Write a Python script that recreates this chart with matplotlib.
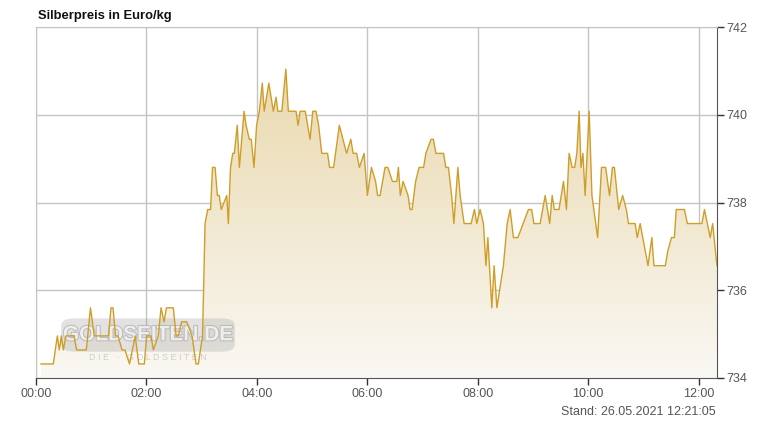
import numpy as np
import matplotlib
matplotlib.use("Agg")
import matplotlib.pyplot as plt
import matplotlib.patheffects as pe
from matplotlib.patches import FancyBboxPatch
from matplotlib.colors import LinearSegmentedColormap

plt.rcParams['font.family'] = ['Liberation Sans', 'DejaVu Sans']

# Kursdaten: Minuten seit 00:00 und Preis in Euro/kg
minutes = [5.4, 18.8, 23.2, 25.3, 27.5, 29.7, 32.6, 41.3, 44.2, 54.7,
           59.2, 63.3, 78.8, 81.5, 83.7, 86.4, 89.1, 93.5, 96.7, 101.6,
           107.8, 111.7, 117.7, 120.3, 125.0, 127.5, 132.9, 135.9, 139.1, 141.8,
           149.2, 152.2, 154.7, 158.2, 163.8, 169.6, 173.9, 176.4, 181.0, 183.7,
           186.6, 189.7, 191.8, 194.6, 197.1, 199.1, 201.3, 207.3, 209.0, 211.4,
           213.8, 215.5, 218.7, 221.0, 226.1, 228.3, 231.8, 233.9, 236.9, 239.7,
           242.7, 245.9, 248.0, 253.0, 257.9, 260.9, 262.8, 267.1, 271.5, 274.2,
           282.6, 284.8, 287.0, 292.6, 297.8, 300.8, 304.3, 307.1, 310.5, 316.8,
           319.0, 323.4, 329.6, 337.5, 342.1, 344.6, 348.4, 351.4, 356.5, 360.1,
           364.5, 369.0, 371.2, 373.9, 379.3, 382.3, 387.3, 392.1, 393.8, 395.9,
           398.9, 404.3, 406.5, 408.7, 412.5, 416.3, 421.2, 423.6, 429.3, 431.8,
           434.6, 442.9, 445.3, 448.2, 451.6, 454.1, 458.4, 460.9, 465.2, 472.8,
           476.4, 479.0, 482.6, 486.2, 488.9, 491.0, 495.3, 497.8, 500.8, 507.9,
           512.0, 515.2, 518.8, 523.6, 535.1, 538.6, 541.0, 547.8, 553.3, 558.2,
           560.9, 563.3, 568.3, 573.2, 576.4, 579.3, 582.6, 585.3, 587.7, 590.2,
           592.2, 594.3, 596.7, 601.1, 604.1, 610.3, 614.5, 619.0, 623.2, 626.4,
           628.5, 633.2, 637.5, 641.5, 643.8, 651.1, 653.3, 656.5, 665.0, 669.2,
           671.5, 683.9, 686.4, 690.5, 693.7, 695.7, 704.6, 707.8, 723.6, 726.4,
           732.6, 735.3, 739.9]
price = [734.32, 734.32, 734.96, 734.64, 734.96, 734.64, 734.96, 734.96, 734.64, 734.64,
         735.60, 734.96, 734.96, 735.60, 735.60, 734.96, 734.96, 734.64, 734.64, 734.32,
         734.96, 734.32, 734.32, 734.96, 734.96, 734.64, 734.96, 735.60, 735.28, 735.60,
         735.60, 734.96, 734.96, 735.28, 735.28, 734.96, 734.32, 734.32, 734.96, 737.52,
         737.84, 737.84, 738.80, 738.80, 738.16, 738.16, 737.84, 738.16, 737.52, 738.80,
         739.12, 739.12, 739.76, 738.80, 740.08, 739.76, 739.44, 739.44, 738.80, 739.76,
         740.08, 740.72, 740.08, 740.72, 740.08, 740.40, 740.08, 740.08, 741.04, 740.08,
         740.08, 739.76, 740.08, 740.08, 739.44, 740.08, 740.08, 739.76, 739.12, 739.12,
         738.80, 738.80, 739.76, 739.12, 739.44, 739.12, 739.12, 738.80, 739.12, 738.16,
         738.80, 738.48, 738.16, 738.16, 738.80, 738.80, 738.48, 738.48, 738.80, 738.16,
         738.48, 738.16, 737.84, 737.84, 738.48, 738.80, 738.80, 739.12, 739.44, 739.44,
         739.12, 739.12, 738.80, 738.80, 738.16, 737.52, 738.80, 738.16, 737.52, 737.52,
         737.84, 737.52, 737.84, 737.52, 736.56, 737.20, 735.60, 736.56, 735.60, 736.56,
         737.52, 737.84, 737.20, 737.20, 737.84, 737.84, 737.52, 737.52, 738.16, 737.52,
         738.16, 737.84, 737.84, 738.48, 737.84, 739.12, 738.80, 738.80, 739.12, 740.08,
         738.80, 739.12, 738.16, 740.08, 738.16, 737.20, 738.80, 738.80, 738.16, 738.80,
         738.80, 737.84, 738.16, 737.84, 737.52, 737.52, 737.20, 737.52, 736.56, 737.20,
         736.56, 736.56, 736.88, 737.20, 737.20, 737.84, 737.84, 737.52, 737.52, 737.84,
         737.20, 737.52, 736.56]

x_ticks = [0, 120, 240, 360, 480, 600, 720]
x_labels = ["00:00", "02:00", "04:00", "06:00", "08:00", "10:00", "12:00"]
y_ticks = [734, 736, 738, 740, 742]

line_col = "#cf9e27"
grid_col = "#c4c4c4"
txt_col = "#555555"

fig = plt.figure(figsize=(7.67, 4.25), dpi=100)
ax = fig.add_axes([36 / 767, 1 - 378 / 425, 681 / 767, 351 / 425])
ax.set_xlim(0, 740)
ax.set_ylim(734, 742)

# Farbverlauf unter der Linie
cmap = LinearSegmentedColormap.from_list("fill", ["#faf8f4", "#e8d5a5"])
grad = np.linspace(0, 1, 256).reshape(-1, 1)
img = ax.imshow(grad, cmap=cmap, origin="lower", aspect="auto",
                extent=[0, 740, 734, 742], zorder=1)
poly = ax.fill_between(minutes, price, 734, color="none", lw=0)
clip = poly.get_paths()[0]
img.set_clip_path(clip, transform=ax.transData)

ax.plot(minutes, price, color=line_col, lw=1.0, zorder=3)

# Wasserzeichen
logo = FancyBboxPatch((0.042, 0.08), 0.245, 0.085,
                      boxstyle="round,pad=0.005,rounding_size=0.02",
                      transform=ax.transAxes, fc="#8f8f8f", ec="none",
                      alpha=0.25, zorder=2)
ax.add_patch(logo)
ax.text(0.1645, 0.123, "GOLDSEITEN.DE", transform=ax.transAxes, ha="center",
        va="center", fontsize=15, fontweight="bold", color="#f2f2f2",
        alpha=0.9, zorder=2,
        path_effects=[pe.withStroke(linewidth=1.5, foreground="#b8b8b8")])
ax.text(0.1645, 0.057, "D I E   ·   G O L D S E I T E N", transform=ax.transAxes,
        ha="center", va="center", fontsize=6.5, color="#c4c4c4", alpha=0.8, zorder=2)

ax.set_xticks(x_ticks)
ax.set_xticklabels(x_labels)
ax.set_yticks(y_ticks)
ax.yaxis.tick_right()
ax.grid(True, color=grid_col, lw=1, zorder=0)
ax.set_axisbelow(True)

for s in ["top", "left"]:
    ax.spines[s].set_color(grid_col)
for s in ["right", "bottom"]:
    ax.spines[s].set_color("#555555")
ax.tick_params(axis="x", direction="out", length=5, width=1, colors="#333333",
               labelcolor=txt_col, labelsize=9, pad=2)
ax.tick_params(axis="y", direction="out", length=5, width=1, colors="#333333",
               labelcolor=txt_col, labelsize=9, pad=2)

fig.text(38 / 767, 1 - 16 / 425, "Silberpreis in Euro/kg", fontsize=9.4,
         fontweight="bold", color="#111111", va="center", ha="left")
fig.text(716 / 767, 1 - 412 / 425, "Stand: 26.05.2021 12:21:05", fontsize=9,
         color=txt_col, va="center", ha="right")

fig.savefig("out.png", dpi=100)
